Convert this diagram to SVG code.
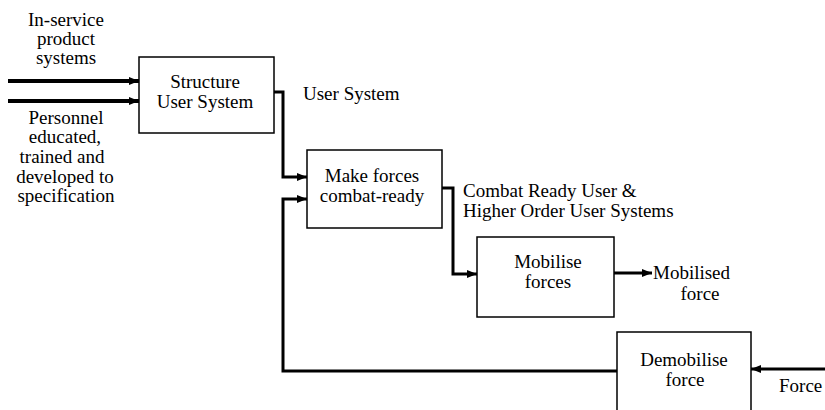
<svg xmlns="http://www.w3.org/2000/svg" width="825" height="410" viewBox="0 0 825 410">
  <style>
    .box { fill: #fff; stroke: #000; stroke-width: 1.5; }
    .wire { fill: none; stroke: #000; stroke-width: 3; }
    .feed { fill: none; stroke: #000; stroke-width: 4; }
  </style>
  <defs>
    <marker id="head" viewBox="0 0 10 8" refX="10" refY="4" markerWidth="10" markerHeight="8" markerUnits="userSpaceOnUse" orient="auto">
      <path d="M0,0 L10,4 L0,8 Z" fill="#000"/>
    </marker>
  </defs>

  <!-- external inputs and outputs -->
  <g id="labels">
    <text x="66" y="26" text-anchor="middle" style="font-family:'Liberation Serif',serif" font-size="19">In-service</text>
    <text x="66" y="45" text-anchor="middle" style="font-family:'Liberation Serif',serif" font-size="19">product</text>
    <text x="66" y="64" text-anchor="middle" style="font-family:'Liberation Serif',serif" font-size="19">systems</text>
    <text x="66" y="124" text-anchor="middle" style="font-family:'Liberation Serif',serif" font-size="19">Personnel</text>
    <text x="65" y="143" text-anchor="middle" style="font-family:'Liberation Serif',serif" font-size="19">educated,</text>
    <text x="62" y="163" text-anchor="middle" style="font-family:'Liberation Serif',serif" font-size="19">trained and</text>
    <text x="65" y="183" text-anchor="middle" style="font-family:'Liberation Serif',serif" font-size="19">developed to</text>
    <text x="66" y="202" text-anchor="middle" style="font-family:'Liberation Serif',serif" font-size="19">specification</text>
    <text x="303" y="100" style="font-family:'Liberation Serif',serif" font-size="19">User System</text>
    <text x="463" y="197" style="font-family:'Liberation Serif',serif" font-size="19">Combat Ready User &amp;</text>
    <text x="463" y="217" style="font-family:'Liberation Serif',serif" font-size="19">Higher Order User Systems</text>
    <text x="653" y="279" style="font-family:'Liberation Serif',serif" font-size="19">Mobilised</text>
    <text x="700" y="300" text-anchor="middle" style="font-family:'Liberation Serif',serif" font-size="19">force</text>
    <text x="779" y="392" style="font-family:'Liberation Serif',serif" font-size="19">Force</text>
  </g>

  <!-- connectors -->
  <g id="connectors">
    <path class="feed" d="M8,81 H139" marker-end="url(#head)"/>
    <path class="feed" d="M8,101 H139" marker-end="url(#head)"/>
    <path class="wire" d="M274,92 H283 V177 H307" marker-end="url(#head)"/>
    <path class="wire" d="M617,371 H283 V199 H307" marker-end="url(#head)"/>
    <path class="wire" d="M442,188 H453 V274 H477" marker-end="url(#head)"/>
    <path class="wire" d="M614,273 H652" marker-end="url(#head)"/>
    <path class="wire" d="M825,369 H751" marker-end="url(#head)"/>
  </g>

  <g id="structure">
    <rect class="box" x="139" y="57" width="135" height="76"/>
    <text x="205" y="88" text-anchor="middle" style="font-family:'Liberation Serif',serif" font-size="19">Structure</text>
    <text x="205" y="108" text-anchor="middle" style="font-family:'Liberation Serif',serif" font-size="19">User System</text>
  </g>

  <g id="make-ready">
    <rect class="box" x="307" y="150" width="135" height="78"/>
    <text x="372" y="182" text-anchor="middle" style="font-family:'Liberation Serif',serif" font-size="19">Make forces</text>
    <text x="372" y="202" text-anchor="middle" style="font-family:'Liberation Serif',serif" font-size="19">combat-ready</text>
  </g>

  <g id="mobilise">
    <rect class="box" x="477" y="237" width="137" height="80"/>
    <text x="548" y="268" text-anchor="middle" style="font-family:'Liberation Serif',serif" font-size="19">Mobilise</text>
    <text x="548" y="288" text-anchor="middle" style="font-family:'Liberation Serif',serif" font-size="19">forces</text>
  </g>

  <g id="demobilise">
    <rect class="box" x="617" y="332" width="134" height="82"/>
    <text x="684" y="366" text-anchor="middle" style="font-family:'Liberation Serif',serif" font-size="19">Demobilise</text>
    <text x="685" y="386" text-anchor="middle" style="font-family:'Liberation Serif',serif" font-size="19">force</text>
  </g>
</svg>
